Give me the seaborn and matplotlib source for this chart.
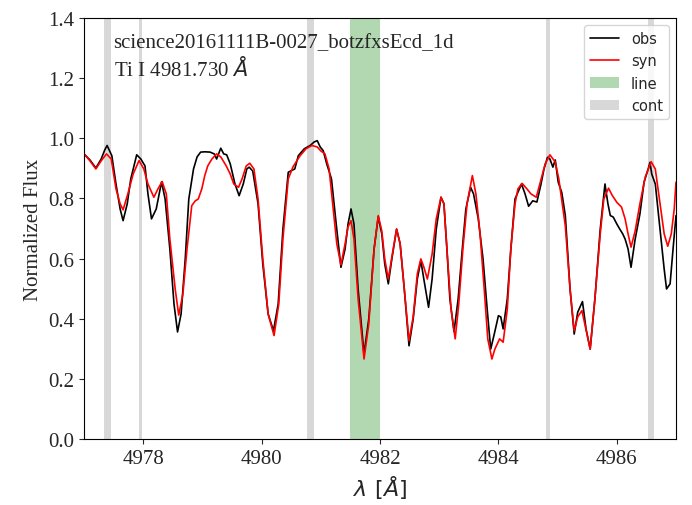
import numpy as np
import pandas as pd
import matplotlib
matplotlib.use('Agg')
import matplotlib.pyplot as plt
import seaborn as sns

sns.set_style('ticks')
plt.rcParams['font.family'] = ['Liberation Serif', 'DejaVu Serif']
plt.rcParams['mathtext.fontset'] = 'dejavusans'

# observed spectrum (wavelength in Angstrom, normalized flux)
obs_wave = [4977.00, 4977.10, 4977.20, 4977.29, 4977.35, 4977.39, 4977.47, 4977.54, 4977.61, 4977.66,
            4977.73, 4977.79, 4977.89, 4977.96, 4978.03, 4978.08, 4978.14, 4978.22, 4978.31, 4978.37,
            4978.45, 4978.52, 4978.58, 4978.64, 4978.71, 4978.77, 4978.85, 4978.91, 4978.97, 4979.04,
            4979.13, 4979.20, 4979.24, 4979.31, 4979.36, 4979.41, 4979.47, 4979.55, 4979.62, 4979.69,
            4979.75, 4979.79, 4979.85, 4979.94, 4980.02, 4980.11, 4980.20, 4980.28, 4980.36, 4980.45,
            4980.56, 4980.62, 4980.72, 4980.82, 4980.89, 4980.94, 4980.99, 4981.04, 4981.10, 4981.18,
            4981.26, 4981.34, 4981.41, 4981.46, 4981.51, 4981.56, 4981.63, 4981.73, 4981.81, 4981.90,
            4981.97, 4982.03, 4982.08, 4982.14, 4982.20, 4982.28, 4982.34, 4982.41, 4982.49, 4982.56,
            4982.63, 4982.69, 4982.74, 4982.82, 4982.88, 4982.95, 4983.03, 4983.08, 4983.13, 4983.18,
            4983.25, 4983.32, 4983.39, 4983.45, 4983.53, 4983.58, 4983.66, 4983.74, 4983.81, 4983.87,
            4983.93, 4984.00, 4984.04, 4984.08, 4984.15, 4984.21, 4984.28, 4984.39, 4984.45, 4984.51,
            4984.58, 4984.65, 4984.72, 4984.77, 4984.83, 4984.87, 4984.92, 4984.96, 4985.01, 4985.07,
            4985.13, 4985.21, 4985.28, 4985.34, 4985.42, 4985.48, 4985.55, 4985.63, 4985.72, 4985.80,
            4985.85, 4985.89, 4985.94, 4986.00, 4986.05, 4986.10, 4986.14, 4986.19, 4986.24, 4986.31,
            4986.39, 4986.46, 4986.53, 4986.56, 4986.59, 4986.65, 4986.73, 4986.80, 4986.84, 4986.90,
            4986.95, 4987.00]
obs_flux = [0.948, 0.928, 0.901, 0.931, 0.961, 0.976, 0.942, 0.848, 0.765, 0.726,
            0.782, 0.865, 0.945, 0.931, 0.908, 0.815, 0.732, 0.765, 0.855, 0.798,
            0.632, 0.449, 0.356, 0.416, 0.599, 0.798, 0.898, 0.938, 0.954, 0.955,
            0.954, 0.948, 0.931, 0.967, 0.948, 0.945, 0.915, 0.848, 0.809, 0.848,
            0.898, 0.904, 0.891, 0.782, 0.582, 0.416, 0.360, 0.449, 0.698, 0.887,
            0.898, 0.942, 0.965, 0.976, 0.988, 0.992, 0.971, 0.959, 0.915, 0.865,
            0.715, 0.571, 0.632, 0.715, 0.765, 0.715, 0.499, 0.283, 0.399, 0.632,
            0.739, 0.682, 0.582, 0.516, 0.599, 0.698, 0.649, 0.499, 0.310, 0.399,
            0.532, 0.593, 0.532, 0.438, 0.532, 0.698, 0.804, 0.782, 0.632, 0.466,
            0.357, 0.466, 0.632, 0.765, 0.837, 0.815, 0.732, 0.599, 0.432, 0.299,
            0.349, 0.410, 0.406, 0.366, 0.466, 0.632, 0.798, 0.848, 0.815, 0.774,
            0.792, 0.788, 0.848, 0.898, 0.937, 0.931, 0.904, 0.928, 0.854, 0.820,
            0.743, 0.499, 0.349, 0.422, 0.457, 0.366, 0.299, 0.466, 0.698, 0.848,
            0.782, 0.743, 0.738, 0.715, 0.698, 0.682, 0.665, 0.632, 0.571, 0.665,
            0.748, 0.854, 0.898, 0.920, 0.881, 0.848, 0.698, 0.565, 0.499, 0.516,
            0.632, 0.743]

# synthetic spectrum
syn_wave = [4977.00, 4977.10, 4977.20, 4977.29, 4977.38, 4977.46, 4977.54, 4977.61, 4977.66, 4977.74,
            4977.83, 4977.93, 4978.01, 4978.08, 4978.18, 4978.25, 4978.32, 4978.39, 4978.45, 4978.54,
            4978.60, 4978.67, 4978.74, 4978.82, 4978.88, 4978.93, 4978.99, 4979.04, 4979.09, 4979.16,
            4979.24, 4979.31, 4979.40, 4979.47, 4979.53, 4979.61, 4979.67, 4979.74, 4979.80, 4979.87,
            4979.94, 4980.02, 4980.11, 4980.21, 4980.29, 4980.36, 4980.45, 4980.53, 4980.65, 4980.75,
            4980.85, 4980.94, 4981.00, 4981.07, 4981.14, 4981.21, 4981.27, 4981.34, 4981.41, 4981.46,
            4981.51, 4981.56, 4981.63, 4981.73, 4981.81, 4981.90, 4981.97, 4982.03, 4982.08, 4982.14,
            4982.20, 4982.28, 4982.34, 4982.41, 4982.49, 4982.56, 4982.63, 4982.69, 4982.74, 4982.80,
            4982.88, 4982.95, 4983.03, 4983.08, 4983.13, 4983.20, 4983.27, 4983.33, 4983.40, 4983.47,
            4983.56, 4983.62, 4983.69, 4983.76, 4983.82, 4983.89, 4983.94, 4984.02, 4984.08, 4984.15,
            4984.21, 4984.28, 4984.33, 4984.40, 4984.48, 4984.55, 4984.64, 4984.70, 4984.79, 4984.87,
            4984.96, 4985.02, 4985.13, 4985.21, 4985.28, 4985.34, 4985.41, 4985.46, 4985.55, 4985.63,
            4985.72, 4985.78, 4985.86, 4985.92, 4986.00, 4986.08, 4986.14, 4986.19, 4986.24, 4986.31,
            4986.39, 4986.48, 4986.58, 4986.65, 4986.73, 4986.80, 4986.86, 4986.92, 4986.97, 4987.00]
syn_flux = [0.948, 0.925, 0.898, 0.925, 0.948, 0.931, 0.832, 0.782, 0.762, 0.815,
            0.881, 0.926, 0.898, 0.848, 0.804, 0.832, 0.856, 0.815, 0.665, 0.499,
            0.412, 0.482, 0.632, 0.776, 0.792, 0.798, 0.832, 0.876, 0.908, 0.931,
            0.948, 0.938, 0.909, 0.881, 0.848, 0.837, 0.865, 0.908, 0.917, 0.898,
            0.798, 0.599, 0.416, 0.344, 0.449, 0.665, 0.865, 0.905, 0.942, 0.965,
            0.976, 0.971, 0.958, 0.948, 0.898, 0.765, 0.649, 0.579, 0.649, 0.705,
            0.726, 0.665, 0.466, 0.266, 0.382, 0.632, 0.743, 0.692, 0.599, 0.532,
            0.605, 0.698, 0.649, 0.499, 0.327, 0.406, 0.549, 0.599, 0.572, 0.532,
            0.615, 0.732, 0.804, 0.782, 0.632, 0.432, 0.333, 0.449, 0.632, 0.782,
            0.876, 0.815, 0.682, 0.499, 0.333, 0.266, 0.299, 0.333, 0.322, 0.432,
            0.632, 0.782, 0.832, 0.850, 0.832, 0.815, 0.804, 0.848, 0.915, 0.945,
            0.921, 0.865, 0.709, 0.499, 0.360, 0.406, 0.427, 0.382, 0.299, 0.466,
            0.682, 0.798, 0.834, 0.811, 0.787, 0.771, 0.732, 0.682, 0.638, 0.692,
            0.782, 0.871, 0.922, 0.898, 0.782, 0.682, 0.641, 0.682, 0.765, 0.854]

# line window and continuum windows
line_window = (4981.50, 4982.00)
cont_lo = [4977.33, 4977.93, 4980.76, 4984.80, 4986.52]
cont_hi = [4977.46, 4977.98, 4980.89, 4984.87, 4986.63]

obs = pd.DataFrame({'wave': obs_wave, 'flux': obs_flux})
syn = pd.DataFrame({'wave': syn_wave, 'flux': syn_flux})

fig = plt.figure(figsize=(6.92, 5.06), dpi=100)
ax = fig.add_axes([0.1214, 0.1304, 0.8555, 0.8321])

sns.lineplot(data=obs, x='wave', y='flux', color='k', lw=1.2, label='obs', estimator=None, ax=ax)
sns.lineplot(data=syn, x='wave', y='flux', color='red', lw=1.2, label='syn', estimator=None, ax=ax)

ax.axvspan(line_window[0], line_window[1], color='green', alpha=0.3, lw=0, label='line')
for i, (lo, hi) in enumerate(zip(cont_lo, cont_hi)):
    ax.axvspan(lo, hi, color='gray', alpha=0.3, lw=0, label='cont' if i == 0 else None)

ax.set_xlim(4977, 4987)
ax.set_ylim(0, 1.4)
ax.set_xticks([4978, 4980, 4982, 4984, 4986])
ax.set_yticks(np.arange(0, 1.41, 0.2))
ax.tick_params(labelsize=15)
ax.set_xlabel(r'$\lambda\ [\AA]$', fontsize=16)
ax.set_ylabel('Normalized Flux', fontsize=15)
for s in ax.spines.values():
    s.set_color('k')

ax.text(0.05, 0.965, 'science20161111B-0027_botzfxsEcd_1d\nTi I 4981.730 $\\AA$',
        transform=ax.transAxes, va='top', ha='left', fontsize=15)

ax.legend(loc='upper right', prop={'family': 'DejaVu Sans', 'size': 10.5})

fig.savefig('out.png', dpi=100)
